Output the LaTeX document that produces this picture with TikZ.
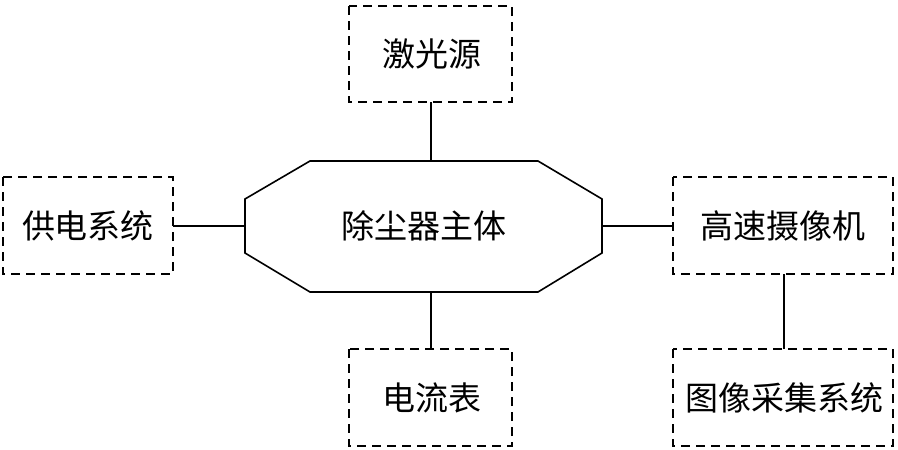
\documentclass[tikz,border=0pt]{standalone}
\usepackage{fontspec}
\newfontfamily\cjk{Noto Sans CJK SC}
\begin{document}
\begin{tikzpicture}[x=1pt,y=-1pt,
  box/.style={draw, line width=1.6pt, dash pattern=on 9pt off 6pt},
  conn/.style={line width=1.6pt},
  lbl/.style={font=\cjk\fontsize{33}{36}\selectfont, inner sep=0pt}]
\useasboundingbox (0,0) rectangle (898,450);
% boxes
\draw[box] (349,6) rectangle (512,102);
\draw[box] (3,177) rectangle (173,274);
\draw[box] (673,177) rectangle (893,274);
\draw[box] (349,349) rectangle (512,446);
\draw[box] (673,349) rectangle (893,446);
\node[lbl] (laser) at (432,54) {激光源};
\node[lbl] (power) at (88,226) {供电系统};
\node[lbl] (cam) at (783,226) {高速摄像机};
\node[lbl] (amp) at (432,398) {电流表};
\node[lbl] (acq) at (784,398) {图像采集系统};
% octagon
\draw[conn] (310,161) -- (538,161) -- (602,199) -- (602,253) -- (538,292) -- (310,292) -- (245,253) -- (245,199) -- cycle;
\node[lbl] (main) at (424,226) {除尘器主体};
\coordinate (oT) at (431,161);
\coordinate (oB) at (431,292);
\coordinate (oL) at (245,226);
\coordinate (oR) at (602,226);
\coordinate (bT) at (431,102);
\coordinate (bB) at (431,349);
\coordinate (bL) at (173,226);
\coordinate (bR) at (673,226);
\coordinate (cB) at (784,274);
\coordinate (aT) at (784,349);
\draw[conn] (oT) -- (bT);
\draw[conn] (oB) -- (bB);
\draw[conn] (oL) -- (bL);
\draw[conn] (oR) -- (bR);
\draw[conn] (cB) -- (aT);
\end{tikzpicture}
\end{document}
